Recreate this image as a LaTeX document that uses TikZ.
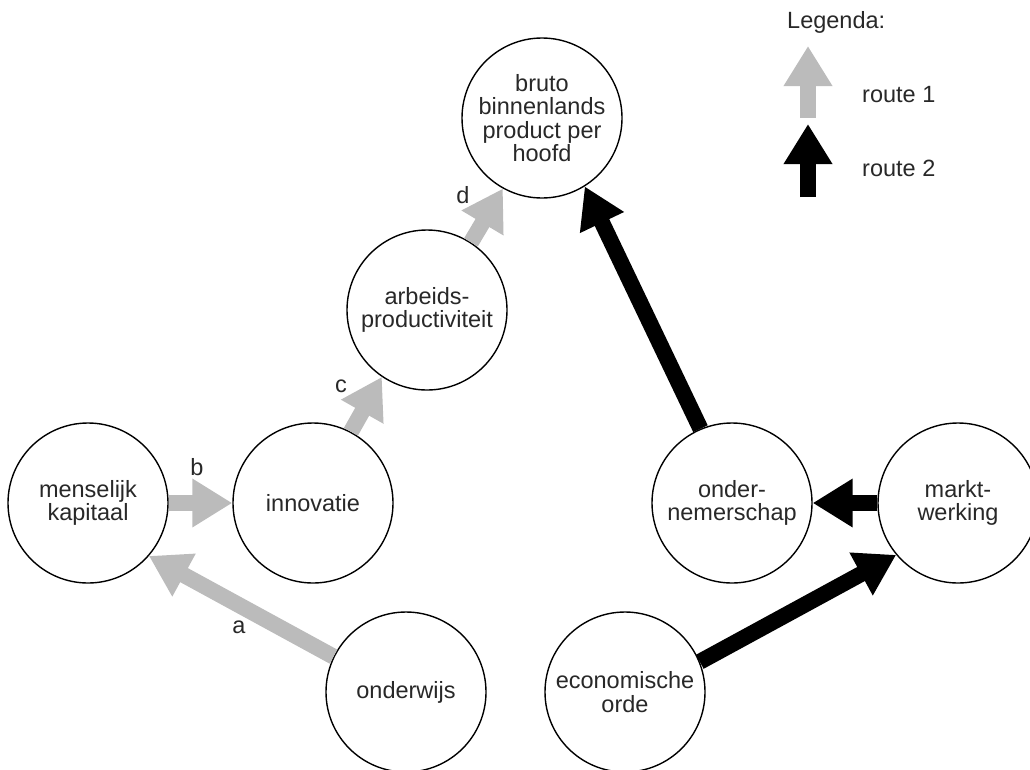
\documentclass[tikz,border=0pt]{standalone}
\usepackage{fontspec}
\setmainfont{Liberation Sans}
\usetikzlibrary{arrows.meta}
\definecolor{arrgray}{RGB}{187,187,187}
\definecolor{txt}{RGB}{40,40,40}
\begin{document}
\begin{tikzpicture}[x=1pt,y=-1pt,
  ball/.style={circle,draw=black,fill=white,line width=1.4pt,minimum size=160pt,inner sep=0pt,align=center,font=\fontsize{23.5}{23.5}\selectfont,text=txt},
  routeone/.style={draw=arrgray,line width=16pt,-{Triangle[length=40pt,width=46pt]}},
  routetwo/.style={routeone,draw=black},
  lab/.style={font=\fontsize{23.5}{23.5}\selectfont,text=txt,inner sep=0pt}]
\useasboundingbox (0,0) rectangle (1030,769);

\node[ball] (bruto) at (542,118) {bruto\\binnenlands\\product per\\hoofd};
\node[ball] (arbeids) at (427,310) {arbeids-\\productiviteit};
\node[ball] (innovatie) at (313,503) {innovatie};
\node[ball] (menselijk) at (88,503) {menselijk\\kapitaal};
\node[ball] (onderwijs) at (406,692) {onderwijs};
\node[ball] (economische) at (625,692) {economische\\orde};
\node[ball] (onder) at (732,503) {onder-\\nemerschap};
\node[ball] (markt) at (958,503) {markt-\\werking};

% route 1
\draw[routeone] (onderwijs.154) -- (menselijk.-41);
\draw[routeone] (menselijk.east) -- (innovatie.west);
\draw[routeone] (innovatie.62) -- (arbeids.-124);
\draw[routeone] (arbeids.57) -- (bruto.-119);
% route 2
\draw[routetwo] (economische.22) -- (markt.-140);
\draw[routetwo] (markt.west) -- (onder.east);
\draw[routetwo] (onder.113) -- (bruto.-58);

% labels
\node[lab] (la) at (239,627) {a};
\node[lab] (lb) at (197,467) {b};
\node[lab] (lc) at (341,386) {c};
\node[lab] (ld) at (463,195) {d};

% legend
\node[lab,anchor=base west] (legenda) at (787,28) {Legenda:};
\coordinate (g1) at (808,118);
\coordinate (g2) at (808,46);
\coordinate (k1) at (808,197);
\coordinate (k2) at (808,124);
\draw[routeone] (g1) -- (g2);
\draw[routetwo] (k1) -- (k2);
\node[lab,anchor=base west] (r1) at (862,102) {route 1};
\node[lab,anchor=base west] (r2) at (862,176) {route 2};
\end{tikzpicture}
\end{document}
